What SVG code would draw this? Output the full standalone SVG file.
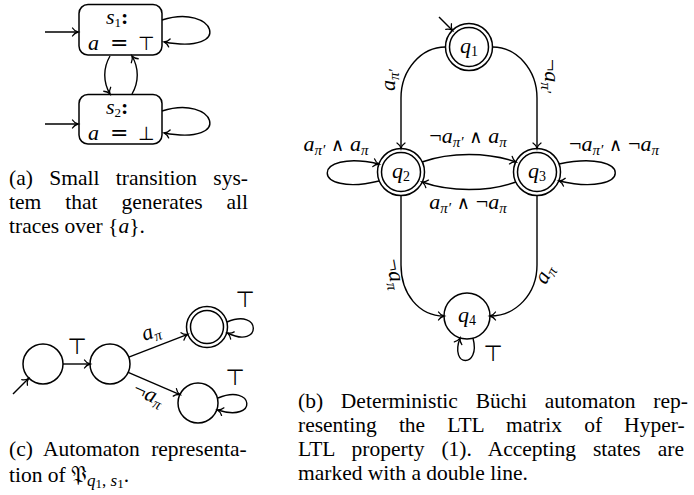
<svg xmlns="http://www.w3.org/2000/svg" width="694" height="495" viewBox="0 0 694 495">
<style>
.nd{fill:#fff;stroke:#000;stroke-width:1.5}
.ed{fill:none;stroke:#000;stroke-width:1.4;marker-end:url(#ar)}
.m{font-family:"Liberation Serif","DejaVu Serif",serif;font-size:22px;fill:#000}
.i{font-style:italic}
.s{font-size:15px;font-style:italic}
.op{font-family:"DejaVu Sans",sans-serif;font-size:18px}
.sym{font-family:"DejaVu Sans",sans-serif}
.cap{font-family:"Liberation Serif","DejaVu Serif",serif;font-size:21.5px;fill:#000}
</style>
<defs>
<marker id="ar" viewBox="-7 -5 8 10" refX="0" refY="0" markerWidth="8" markerHeight="10" markerUnits="userSpaceOnUse" orient="auto" overflow="visible">
<path d="M-5.5,-4 C-4,-1.6 -1.5,-0.4 0,0 C-1.5,0.4 -4,1.6 -5.5,4" fill="none" stroke="#000" stroke-width="1.3" stroke-linecap="round"/>
</marker>
</defs>
<rect width="694" height="495" fill="#fff"/>

<!-- (a) transition system -->
<g id="s1">
<rect class="nd" x="79" y="4.5" width="83" height="50.5" rx="9"/>
<text class="m" y="24" font-size="20"><tspan x="106" class="i">s</tspan><tspan font-size="13" dy="3">1</tspan><tspan dy="-3" font-weight="bold">:</tspan></text>
<text class="m" y="49.5" font-size="20"><tspan x="88" class="i">a</tspan><tspan x="110" font-family="DejaVu Serif">=</tspan><tspan x="138" class="sym" font-size="19">⊤</tspan></text>
</g>
<g id="s2">
<rect class="nd" x="79" y="94.5" width="83" height="49.5" rx="9"/>
<text class="m" y="114" font-size="20"><tspan x="106" class="i">s</tspan><tspan font-size="13" dy="3">2</tspan><tspan dy="-3" font-weight="bold">:</tspan></text>
<text class="m" y="140" font-size="20"><tspan x="88" class="i">a</tspan><tspan x="110" font-family="DejaVu Serif">=</tspan><tspan x="138" class="sym" font-size="19">⊥</tspan></text>
</g>

<!-- (b) Buchi automaton -->
<g id="q1">
<circle class="nd" cx="469" cy="47" r="23.5"/>
<circle class="nd" cx="469" cy="47" r="19.5"/>
<text class="m" x="469" y="53" text-anchor="middle" font-size="20"><tspan class="i">q</tspan><tspan font-size="14" dy="3">1</tspan></text>
</g>
<g id="q2">
<circle class="nd" cx="401" cy="172" r="23.5"/>
<circle class="nd" cx="401" cy="172" r="19.5"/>
<text class="m" x="401" y="178" text-anchor="middle" font-size="20"><tspan class="i">q</tspan><tspan font-size="14" dy="3">2</tspan></text>
</g>
<g id="q3">
<circle class="nd" cx="537" cy="172" r="23.5"/>
<circle class="nd" cx="537" cy="172" r="19.5"/>
<text class="m" x="537" y="178" text-anchor="middle" font-size="20"><tspan class="i">q</tspan><tspan font-size="14" dy="3">3</tspan></text>
</g>
<g id="q4">
<circle class="nd" cx="467" cy="316" r="23"/>
<text class="m" x="467" y="322" text-anchor="middle" font-size="20"><tspan class="i">q</tspan><tspan font-size="14" dy="3">4</tspan></text>
</g>

<!-- (c) automaton -->
<g id="c1"><circle class="nd" cx="43" cy="364" r="20"/></g>
<g id="c2"><circle class="nd" cx="110" cy="364" r="20"/></g>
<g id="c3"><circle class="nd" cx="207" cy="327" r="20.5"/><circle class="nd" cx="207" cy="327" r="16.5"/></g>
<g id="c4"><circle class="nd" cx="198" cy="403" r="20"/></g>

<g id="connectors">
<!-- (a) -->
<path class="ed" d="M45,32 L78,32"/>
<path class="ed" d="M45,124 L78,124"/>
<path class="ed" d="M162,20 C215,3 235,55 164,42"/>
<path class="ed" d="M162,111 C215,94 235,146 164,133"/>
<path class="ed" d="M110,56 C103,68 103,82 110,94"/>
<path class="ed" d="M132,94 C139,82 139,68 132,56"/>
<!-- (b) -->
<path class="ed" d="M439,17 L452.5,30.5"/>
<path class="ed" d="M445.5,47 C421,47 401,70 401,98 L401,148.5"/>
<path class="ed" d="M492.5,47 C517,47 537,70 537,98 L537,148.5"/>
<path class="ed" d="M379,181 C310,198 310,148 379,164"/>
<path class="ed" d="M559,164 C634,148 634,198 559,181"/>
<path class="ed" d="M422,162 C450,152 488,152 516,162"/>
<path class="ed" d="M516,182 C488,192 450,192 422,182"/>
<path class="ed" d="M401,195.5 L401,265 C401,294 419,316 444,316"/>
<path class="ed" d="M537,195.5 L537,265 C537,294 516,316 490,316"/>
<path class="ed" d="M473,338.2 C481,368 449,368 460,338"/>
<!-- (c) -->
<path class="ed" d="M13,394 L28.5,378.5"/>
<path class="ed" d="M63,364 L90,364"/>
<path class="ed" d="M128.8,357.1 L187.6,334.4"/>
<path class="ed" d="M128.2,372.3 L179.9,394.6"/>
<path class="ed" d="M227,322 C262,307 262,350 227.5,333"/>
<path class="ed" d="M218,398 C254,383 259,423 217.5,410"/>
</g>

<g id="labels">
<!-- (b) labels -->
<text class="m" transform="translate(395,80) rotate(-90)" text-anchor="middle"><tspan class="i">a</tspan><tspan class="s" dy="4">π′</tspan></text>
<text class="m" transform="translate(545,76) rotate(90)" text-anchor="middle">¬<tspan class="i">a</tspan><tspan class="s" dy="4">π′</tspan></text>
<text class="m" x="336" y="151" text-anchor="middle"><tspan class="i">a</tspan><tspan class="s" dy="4">π′</tspan><tspan class="op" dy="-4"> ∧ </tspan><tspan class="i">a</tspan><tspan class="s" dy="4">π</tspan></text>
<text class="m" x="468" y="143" text-anchor="middle">¬<tspan class="i">a</tspan><tspan class="s" dy="4">π′</tspan><tspan class="op" dy="-4"> ∧ </tspan><tspan class="i">a</tspan><tspan class="s" dy="4">π</tspan></text>
<text class="m" x="614" y="151" text-anchor="middle">¬<tspan class="i">a</tspan><tspan class="s" dy="4">π′</tspan><tspan class="op" dy="-4"> ∧ </tspan><tspan>¬</tspan><tspan class="i">a</tspan><tspan class="s" dy="4">π</tspan></text>
<text class="m" x="468" y="209" text-anchor="middle"><tspan class="i">a</tspan><tspan class="s" dy="4">π′</tspan><tspan class="op" dy="-4"> ∧ </tspan><tspan>¬</tspan><tspan class="i">a</tspan><tspan class="s" dy="4">π</tspan></text>
<text class="m" transform="translate(389,275) rotate(80)" text-anchor="middle">¬<tspan class="i">a</tspan><tspan class="s" dy="4">π</tspan></text>
<text class="m" transform="translate(550,277) rotate(-62)" text-anchor="middle"><tspan class="i">a</tspan><tspan class="s" dy="4">π</tspan></text>
<text class="m sym" x="493" y="361" text-anchor="middle" font-size="20">⊤</text>
<!-- (c) labels -->
<text class="m sym" x="77" y="354" text-anchor="middle" font-size="18">⊤</text>
<text class="m" transform="translate(153,338) rotate(-19)" text-anchor="middle"><tspan class="i">a</tspan><tspan class="s" dy="4">π</tspan></text>
<text class="m" transform="translate(146,400) rotate(24)" text-anchor="middle">¬<tspan class="i">a</tspan><tspan class="s" dy="4">π</tspan></text>
<text class="m sym" x="245" y="307" text-anchor="middle" font-size="18">⊤</text>
<text class="m sym" x="235" y="385" text-anchor="middle" font-size="18">⊤</text>
</g>

<g id="captions">
<text class="cap" x="9" y="185" word-spacing="11">(a) Small transition sys-</text>
<text class="cap" x="9" y="209" word-spacing="18.6">tem that generates all</text>
<text class="cap" x="9" y="233">traces over {<tspan class="i">a</tspan>}.</text>
<text class="cap" x="298" y="408" word-spacing="12.4">(b) Deterministic Büchi automaton rep-</text>
<text class="cap" x="298" y="432" word-spacing="16.7">resenting the LTL matrix of Hyper-</text>
<text class="cap" x="298" y="456" word-spacing="11.6">LTL property (1). Accepting states are</text>
<text class="cap" x="298" y="480">marked with a double line.</text>
<text class="cap" x="9" y="456" word-spacing="6">(c) Automaton representa-</text>
<text class="cap" x="9" y="482">tion of <tspan font-family="DejaVu Serif" font-size="22">𝔓</tspan><tspan class="i" font-size="17" dy="4">q</tspan><tspan font-size="13" dy="2">1</tspan><tspan font-size="17" dy="-2">, </tspan><tspan class="i" font-size="17">s</tspan><tspan font-size="13" dy="2">1</tspan><tspan dy="-6">.</tspan></text>
</g>
</svg>
